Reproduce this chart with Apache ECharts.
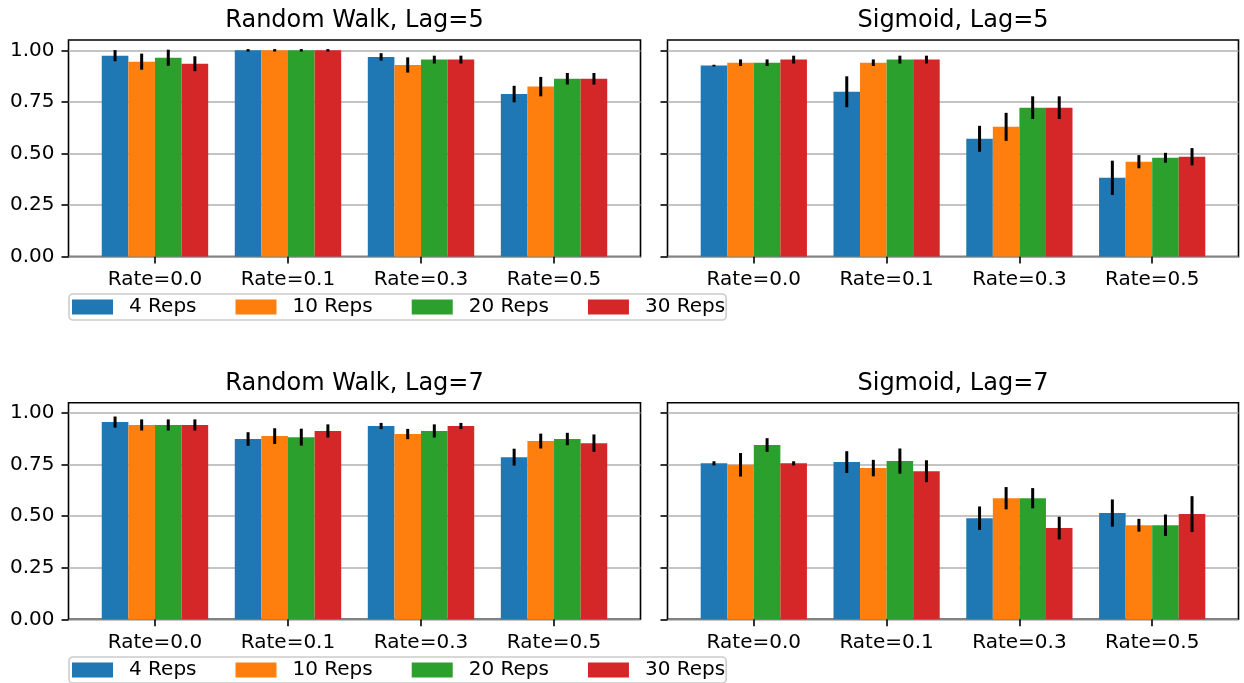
<!DOCTYPE html>
<html>
<head>
<meta charset="utf-8">
<script src="https://cdn.jsdelivr.net/npm/echarts@6/dist/echarts.min.js"></script>
<style>
html,body{margin:0;padding:0;background:#fff;}
#chart{width:1244px;height:683px;}
</style>
</head>
<body>
<div id="chart"></div>
<script>
// ---- data ----
const rates = ['Rate=0.0', 'Rate=0.1', 'Rate=0.3', 'Rate=0.5'];
const reps = ['4 Reps', '10 Reps', '20 Reps', '30 Reps'];
const yTicks = [0, 0.25, 0.5, 0.75, 1.0];
const titles = ['Random Walk, Lag=5', 'Sigmoid, Lag=5', 'Random Walk, Lag=7', 'Sigmoid, Lag=7'];

// rows: 4 Reps, 10 Reps, 20 Reps, 30 Reps ; columns: rates
const rw5Mean = [
  [0.974, 1.000, 0.968, 0.788],
  [0.945, 1.000, 0.929, 0.824],
  [0.964, 1.000, 0.955, 0.862],
  [0.935, 1.000, 0.955, 0.862]
];
const rw5Err = [
  [0.027, 0.006, 0.018, 0.040],
  [0.039, 0.006, 0.037, 0.047],
  [0.039, 0.006, 0.019, 0.028],
  [0.036, 0.006, 0.019, 0.028]
];
const sg5Mean = [
  [0.926, 0.799, 0.571, 0.382],
  [0.940, 0.940, 0.629, 0.460],
  [0.940, 0.955, 0.722, 0.479],
  [0.955, 0.955, 0.722, 0.484]
];
const sg5Err = [
  [0.004, 0.075, 0.063, 0.083],
  [0.016, 0.016, 0.068, 0.032],
  [0.016, 0.019, 0.055, 0.024],
  [0.019, 0.019, 0.055, 0.042]
];
const rw7Mean = [
  [0.956, 0.874, 0.937, 0.786],
  [0.942, 0.888, 0.898, 0.864],
  [0.942, 0.883, 0.913, 0.874],
  [0.942, 0.913, 0.937, 0.854]
];
const rw7Err = [
  [0.027, 0.033, 0.015, 0.041],
  [0.027, 0.038, 0.025, 0.036],
  [0.027, 0.041, 0.032, 0.030],
  [0.027, 0.032, 0.015, 0.042]
];
const sg7Mean = [
  [0.756, 0.762, 0.490, 0.515],
  [0.749, 0.733, 0.587, 0.456],
  [0.845, 0.767, 0.587, 0.456],
  [0.756, 0.718, 0.442, 0.510]
];
const sg7Err = [
  [0.010, 0.053, 0.057, 0.066],
  [0.057, 0.040, 0.054, 0.031],
  [0.033, 0.061, 0.049, 0.052],
  [0.010, 0.053, 0.055, 0.087]
];

// ---- styling / layout ----
const colors = ['#1f77b4', '#ff7f0e', '#2ca02c', '#d62728'];
const FONT = 'DejaVu Sans';
const panels = [
  {mean: rw5Mean, err: rw5Err, left: 68.5, top: 40, width: 572, labels: true},
  {mean: sg5Mean, err: sg5Err, left: 667.5, top: 40, width: 571, labels: false},
  {mean: rw7Mean, err: rw7Err, left: 68.5, top: 402.7, width: 572, labels: true},
  {mean: sg7Mean, err: sg7Err, left: 667.5, top: 402.7, width: 571, labels: false}
];
const H = 216.6;
const XMIN = -0.65, XMAX = 3.65;

const grid = [], xAxis = [], yAxis = [], series = [], title = [];
panels.forEach((p, gi) => {
  grid.push({
    left: p.left, top: p.top, width: p.width, height: H,
    show: true, borderColor: '#000', borderWidth: 1.6, backgroundColor: 'transparent',
    outerBoundsMode: 'none', containLabel: false
  });
  title.push({
    text: titles[gi], left: p.left + p.width / 2, textAlign: 'center',
    top: p.top - 31, padding: 0,
    textStyle: {fontFamily: FONT, fontSize: 24, fontWeight: 'normal', color: '#000'}
  });
  xAxis.push({
    type: 'value', gridIndex: gi, min: XMIN, max: XMAX, position: 'bottom',
    axisLine: {show: false, onZero: false},
    axisTick: {show: true, customValues: [0, 1, 2, 3], length: 7, lineStyle: {color: '#000', width: 1.6}},
    axisLabel: {
      show: true, customValues: [0, 1, 2, 3], margin: 13,
      fontFamily: FONT, fontSize: 20, color: '#000',
      formatter: v => rates[Math.round(v)]
    },
    splitLine: {show: false}
  });
  yAxis.push({
    type: 'value', gridIndex: gi, min: 0, max: 1.05, interval: 0.25, position: 'left',
    axisLine: {show: false, onZero: false},
    axisTick: {show: true, customValues: yTicks, length: 7, lineStyle: {color: '#000', width: 1.6}},
    axisLabel: {
      show: p.labels, customValues: yTicks, margin: 14,
      fontFamily: FONT, fontSize: 20, color: '#000',
      formatter: v => v.toFixed(2)
    },
    splitLine: {show: true, lineStyle: {color: '#b0b0b0', width: 1.6}}
  });
  reps.forEach((name, k) => {
    series.push({
      type: 'bar', name: name, xAxisIndex: gi, yAxisIndex: gi,
      barGap: '0%', barCategoryGap: '20%',
      itemStyle: {color: colors[k]},
      data: p.mean[k].map((v, i) => [i, v]),
      z: 2
    });
  });
  reps.forEach((name, k) => {
    series.push({
      type: 'custom', name: 'err', xAxisIndex: gi, yAxisIndex: gi,
      encode: {x: 0, y: 1},
      data: p.mean[k].map((v, i) => [i, v, p.err[k][i]]),
      renderItem: (params, api) => {
        const x = api.value(0) + (k - 1.5) * 0.2;
        const m = api.value(1), e = api.value(2);
        const a = api.coord([x, m + e]);
        const b = api.coord([x, m - e]);
        return {type: 'line', shape: {x1: a[0], y1: a[1], x2: b[0], y2: b[1]},
                style: {stroke: '#000', lineWidth: 3}};
      },
      z: 5, silent: true
    });
  });
});

function makeLegend(top) {
  return {
    data: reps, left: 69, top: top, orient: 'horizontal',
    icon: 'rect', itemWidth: 41, itemHeight: 15, itemGap: 39,
    selectedMode: false,
    textStyle: {fontFamily: FONT, fontSize: 20, color: '#000', padding: [0, 0, 0, 11], lineHeight: 20},
    padding: [3, 1, 3, 3],
    borderColor: '#cccccc', borderWidth: 1.6, borderRadius: 4,
    backgroundColor: 'rgba(255,255,255,0.8)'
  };
}

const chart = echarts.init(document.getElementById('chart'), null, {renderer: 'canvas'});
chart.setOption({
  animation: false,
  backgroundColor: '#fff',
  title: title,
  grid: grid,
  xAxis: xAxis,
  yAxis: yAxis,
  legend: [makeLegend(294), makeLegend(657)],
  series: series
});
</script>
</body>
</html>
